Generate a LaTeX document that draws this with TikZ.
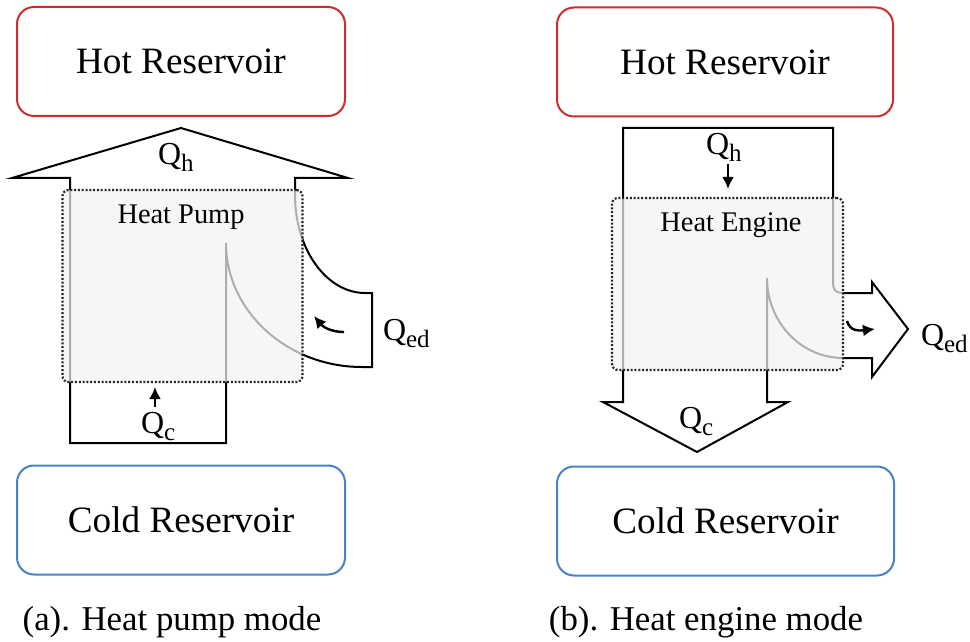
\documentclass[tikz,border=0pt]{standalone}
\usepackage{fontspec}
\setmainfont{Liberation Serif}
\usetikzlibrary{arrows.meta}
\definecolor{hotred}{RGB}{205,45,45}
\definecolor{coldblue}{RGB}{70,130,200}
\newcommand{\heatq}[1]{Q\raisebox{-3.5pt}{\fontsize{12.5}{13}\selectfont #1}}

\begin{document}
\begin{tikzpicture}[x=0.5pt,y=-0.5pt,line width=1pt,
    res/.style={draw,rounded corners=8.5pt,minimum width=164pt,minimum height=54.5pt,
      font=\fontsize{18.6}{20}\selectfont},
    hot/.style={res,draw=hotred},
    cold/.style={res,draw=coldblue},
    machine/.style={draw=black!85,line width=1.1pt,dash pattern=on 1pt off 0.9pt,
      rounded corners=3pt,fill=black!5,fill opacity=0.72},
    flow/.style={line width=1pt},
    qlab/.style={anchor=base west,inner sep=0pt,font=\fontsize{16}{17}\selectfont},
    machinelabel/.style={anchor=base,inner sep=0pt,font=\fontsize{14.2}{16}\selectfont},
    tiny/.style={line width=1.2pt,-{Latex[length=6pt,width=6pt]}},
    modecap/.style={anchor=base,inner sep=0pt,font=\fontsize{17.4}{19}\selectfont}]
  \useasboundingbox (0,0) rectangle (970,642);

  % (a) heat pump
  \node[hot]  (hotA)  at (181,61.5) {Hot Reservoir};
  \node[cold] (coldA) at (181,520)  {Cold Reservoir};
  \draw[flow] (70,443) -- (70,178) -- (12,178) -- (181,128) -- (348,178) -- (295,178) -- (295,195)
    .. controls (295,250) and (327,293) .. (365,293) -- (372,293) -- (372,367) -- (362,367)
    .. controls (287,367) and (226,311) .. (226,243) -- (226,443) -- cycle;
  \node[machine,minimum width=120pt,minimum height=96pt] (pump) at (182.5,286) {};
  \node[machinelabel] (pumpname) at (181,223) {Heat Pump};
  \node[qlab] (qhA)  at (157,165) {\heatq{h}};
  \node[qlab] (qcA)  at (140,433) {\heatq{c}};
  \node[qlab] (qedA) at (382,340) {\heatq{ed}};
  \coordinate (qcAend) at (155,387);
  \coordinate (qedAstart) at (344,332);
  \coordinate (qedAend) at (314,316);
  \draw[tiny] (155,407) -- (qcAend);
  \draw[tiny] (qedAstart) .. controls (333,332) and (324,328) .. (qedAend);
  \node[modecap] (capA) at (172,630) {(a). Heat pump mode};

  % (b) heat engine
  \node[hot,minimum width=168pt]    (hotB)  at (725,62)    {Hot Reservoir};
  \node[cold,minimum width=168.5pt] (coldB) at (725.5,521) {Cold Reservoir};
  \draw[flow] (623,128) -- (833,128) -- (833,283) .. controls (833,290) and (836,293) .. (843,293)
    -- (872,293) -- (872,282) -- (908,329) -- (872,377) -- (872,358) -- (843,358)
    .. controls (801,358) and (767,322) .. (767,278) -- (767,402) -- (788,402) -- (697,452)
    -- (603,402) -- (623,402) -- cycle;
  \node[machine,minimum width=115.5pt,minimum height=86pt] (engine) at (727.5,284) {};
  \node[machinelabel] (enginename) at (731,232) {Heat Engine};
  \node[qlab] (qhB)  at (705,155) {\heatq{h}};
  \node[qlab] (qcB)  at (678,428) {\heatq{c}};
  \node[qlab] (qedB) at (920,345) {\heatq{ed}};
  \coordinate (qhBend) at (728,189);
  \coordinate (qedBstart) at (847,321);
  \coordinate (qedBend) at (875,329);
  \draw[tiny] (728,164) -- (qhBend);
  \draw[tiny] (qedBstart) .. controls (850,331) and (858,331) .. (qedBend);
  \node[modecap] (capB) at (706,630) {(b). Heat engine mode};
\end{tikzpicture}
\end{document}
